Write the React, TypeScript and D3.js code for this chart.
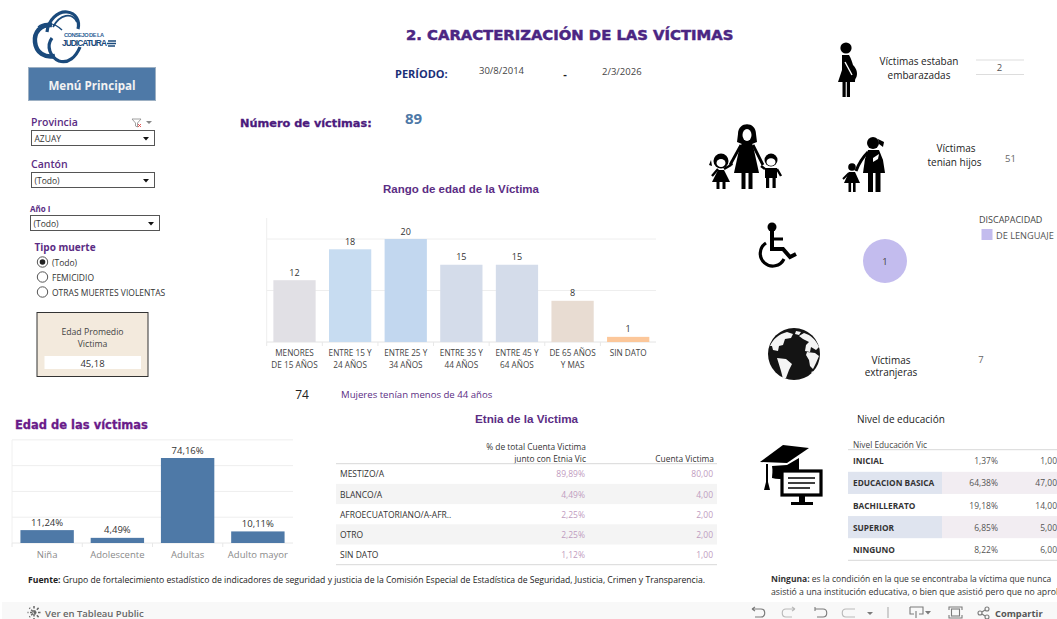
import React from "react";
import * as d3 from "d3";

const rangoCats = [["MENORES","DE 15 AÑOS"],["ENTRE 15 Y","24 AÑOS"],["ENTRE 25 Y","34 AÑOS"],["ENTRE 35 Y","44 AÑOS"],["ENTRE 45 Y","64 AÑOS"],["DE 65 AÑOS","Y MAS"],["SIN DATO"]];
const rangoVals = [12,18,20,15,15,8,1];
const rangoColors = ["#e1e0e5","#c7dcf1","#c2d7ef","#d4dcea","#d4dcea","#e8dcd2","#fcc79a"];
const rangoGrid = [10,20];
const edadCats = ["Niña","Adolescente","Adultas","Adulto mayor"];
const edadVals = [11.24,4.49,74.16,10.11];
const edadLabels = ["11,24%","4,49%","74,16%","10,11%"];
const edadGrid = [22.5,45,67.5,90];
const etniaCats = ["MESTIZO/A","BLANCO/A","AFROECUATORIANO/A-AFR..","OTRO","SIN DATO"];
const etniaPct = ["89,89%","4,49%","2,25%","2,25%","1,12%"];
const etniaCnt = ["80,00","4,00","2,00","2,00","1,00"];
const eduCats = ["INICIAL","EDUCACION BASICA","BACHILLERATO","SUPERIOR","NINGUNO"];
const eduPct = ["1,37%","64,38%","19,18%","6,85%","8,22%"];
const eduCnt = ["1,00","47,00","14,00","5,00","6,00"];
const tipoMuerte = ["(Todo)","FEMICIDIO","OTRAS MUERTES VIOLENTAS"];

const F = "'Open Sans', sans-serif";
const H = "'Liberation Sans', sans-serif";
const D = "'DejaVu Sans', sans-serif";
const PUR = "#5b2d84";

function T({x,y,s=9,c="#333",w=400,a="start",f=F,bold=0,children}:any){
  return <text x={x} y={y} fontSize={s} fill={c} fontWeight={w} textAnchor={a} fontFamily={f} dominantBaseline="central" stroke={bold?c:"none"} strokeWidth={bold}>{children}</text>;
}

function Dropdown({x,y,w,label}:any){
  return <g>
    <rect x={x+.5} y={y+.5} width={w} height={15} fill="#fff" stroke="#555"/>
    <T x={x+3.5} y={y+8} s={8.5} c="#333">{label}</T>
    <path d={`M${x+w-11} ${y+7}h6l-3 3.5z`} fill="#111"/>
  </g>;
}

function RangoChart(){
  const x = d3.scaleBand().domain(d3.range(rangoCats.length).map(String)).range([266.7,656]).paddingInner(0.24).paddingOuter(0.12);
  const y = d3.scaleLinear().domain([0,20]).range([342,239]);
  const step = x.step();
  return <g>
    <line x1={266.7} x2={266.7} y1={218} y2={342} stroke="#eee"/>
    {rangoGrid.map(g=><line key={g} x1={266.7} x2={656} y1={y(g)} y2={y(g)} stroke="#eee"/>)}
    <line x1={266.7} x2={656} y1={y(0)} y2={y(0)} stroke="#e4e4e4"/>
    {rangoVals.map((v,i)=>{const bx=x(String(i))!;return <g key={i}>
      <rect x={bx} y={y(v)} width={x.bandwidth()} height={y(0)-y(v)} fill={rangoColors[i]}/>
      <line x1={266.7+step*i} x2={266.7+step*i} y1={342} y2={346} stroke="#e8e8e8"/>
      <T x={bx+x.bandwidth()/2} y={y(v)-8} s={9} a="middle" c="#333">{v}</T>
      {rangoCats[i].map((l,k)=><T key={k} x={bx+x.bandwidth()/2} y={352+k*12} s={8.2} a="middle" c="#444">{l}</T>)}
    </g>})}
  </g>;
}

function EdadChart(){
  const x = d3.scaleBand().domain(edadCats).range([12,293]).paddingInner(0.24).paddingOuter(0.12);
  const y = d3.scaleLinear().domain([0,74.16]).range([543,458]);
  const step = x.step();
  return <g>
    <line x1={12} x2={12} y1={440} y2={543} stroke="#f0f0f0"/>
    {edadGrid.map(g=><line key={g} x1={12} x2={293} y1={y(g)} y2={y(g)} stroke="#eee"/>)}
    <line x1={12} x2={293} y1={543} y2={543} stroke="#e8e8e8"/>
    {edadVals.map((v,i)=>{const c=edadCats[i];const bx=x(c)!;return <g key={c}>
      <rect x={bx} y={y(v)} width={x.bandwidth()} height={y(0)-y(v)} fill="#4e79a7"/>
      <line x1={12+step*i} x2={12+step*i} y1={543} y2={547} stroke="#e8e8e8"/>
      <T x={bx+x.bandwidth()/2} y={y(v)-8} s={9.5} a="middle" c="#333">{edadLabels[i]}</T>
      <T x={bx+x.bandwidth()/2} y={554} s={9.5} a="middle" c="#8a8a8a">{c}</T>
    </g>})}
  </g>;
}

function EtniaTable(){
  const y = d3.scaleBand().domain(etniaCats).range([463.7,564.7]);
  return <g>
    <T x={586} y={446} s={8.4} a="end" c="#333">% de total Cuenta Victima</T>
    <T x={586} y={458} s={8.4} a="end" c="#333">junto con Etnia Vic</T>
    <T x={714} y={458} s={8.4} a="end" c="#333">Cuenta Victima</T>
    {etniaCats.map((c,i)=>{const ry=y(c)!;const h=y.bandwidth();return <g key={c}>
      {i%2===1 && <rect x={336} y={ry} width={381} height={h} fill="#f4f4f4"/>}
      <T x={340} y={ry+h/2} s={8.5} c="#333">{c}</T>
      <T x={585} y={ry+h/2} s={8.5} a="end" c="#bf9cc0">{etniaPct[i]}</T>
      <T x={713} y={ry+h/2} s={8.5} a="end" c="#bf9cc0">{etniaCnt[i]}</T>
    </g>})}
    <line x1={336} x2={717} y1={463.7} y2={463.7} stroke="#d8d8d8"/>
    <line x1={336} x2={717} y1={564.7} y2={564.7} stroke="#d8d8d8"/>
  </g>;
}

function EduTable(){
  const y = d3.scaleBand().domain(eduCats).range([449.7,560.3]);
  return <g>
    <T x={853} y={444} s={8.3} c="#444">Nivel Educación Vic</T>
    {eduCats.map((c,i)=>{const ry=y(c)!;const h=y.bandwidth();return <g key={c}>
      {i%2===1 && <><rect x={848} y={ry} width={94} height={h} fill="#dfe4ef"/><rect x={942} y={ry} width={115} height={h} fill="#f2edf2"/></>}
      <T x={853} y={ry+h/2} s={8.3} w={700} c="#333">{c}</T>
      <T x={998} y={ry+h/2} s={8.5} a="end" c="#555">{eduPct[i]}</T>
      <T x={1057} y={ry+h/2} s={8.5} a="end" c="#555">{eduCnt[i]}</T>
    </g>})}
    <line x1={848} x2={1057} y1={449.7} y2={449.7} stroke="#d8d8d8"/>
    <line x1={848} x2={1057} y1={560.3} y2={560.3} stroke="#d8d8d8"/>
  </g>;
}

function Logo(){
  const c="#1a4a7c";
  return <g fill="none" stroke={c}>
    <path d="M52 25 C40 24 34 33 35 42 C36 53 45 58 55 56" strokeWidth={4.5}/>
    <path d="M47 32 C48 20 58 11 67 12 C76 13 80 21 78 29" strokeWidth={3.2}/>
    <path d="M53 27 C60 14 72 12 77 22" strokeWidth={1.8}/>
    <path d="M52 38 C46 46 50 57 59 61 C68 64 76 57 80 47" strokeWidth={3.2}/>
    <path d="M38 27 C44 22 54 22 62 30" strokeWidth={1.5}/>
    <text x={64} y={37} fontSize={5.7} fontWeight={700} fontFamily={H} fill="#2f5f96" stroke="none" textLength={40}>CONSEJO DE LA</text>
    <text x={62} y={46} fontSize={8.4} fontWeight={700} fontFamily={H} fill={c} stroke="none" textLength={45}>JUDICATURA</text>
    <path d="M108 41h8M107 43.500h9M108 46h7" strokeWidth={1.6}/>
  </g>;
}

function Pregnant(){
  return <g fill="#000">
    <circle cx={846} cy={48} r={5.6}/>
    <path d="M842 55h7c2 3 3 7 4 10c4 4 5 9 3 13c-1 1-1 2-1 4h-17l4-12z"/>
    <rect x={842.500} y={82} width={3.200} height={15}/><rect x={846.800} y={82} width={3.200} height={15}/>
    <path d="M845 62l7 13" stroke="#fff" strokeWidth={1.4} fill="none"/>
  </g>;
}

function Family(){
  return <g fill="#000">
    <circle cx={721} cy={161} r={7.500}/>
    <path d="M711 160l-2 5 3 1zM731 160l2 5-3 1z"/>
    <ellipse cx={721} cy={163} rx={4.500} ry={4} fill="#fff"/>
    <path d="M718 170h6l6 12h-18z"/>
    <rect x={716.500} y={181} width={3} height={8}/><rect x={722.500} y={181} width={3} height={8}/>
    <path d="M712 176l6-7M724 169l7-4" stroke="#000" strokeWidth={2.400} fill="none"/>

    <path d="M738 134c0-13 18-13 18 0l1 8-5 2h-10l-5-2z"/>
    <ellipse cx={747} cy={135} rx={4.500} ry={6} fill="#fff"/>
    <path d="M742 143h10l2 7 5 23h-25l5-23z"/>
    <rect x={741.500} y={173} width={4} height={16}/><rect x={748.500} y={173} width={4} height={16}/>
    <path d="M741 145l-11 20M753 145l10 20" stroke="#000" strokeWidth={2.800} fill="none"/>

    <circle cx={771} cy={160} r={6.500}/>
    <ellipse cx={771} cy={162} rx={4.500} ry={3.800} fill="#fff"/>
    <path d="M765 168h12v10h-12z"/>
    <rect x={766} y={177} width={3.200} height={11}/><rect x={772.500} y={177} width={3.200} height={11}/>
    <path d="M765 169l-4-3M777 169l4 7" stroke="#000" strokeWidth={2.400} fill="none"/>
  </g>;
}

function Mom(){
  return <g fill="#000">
    <circle cx={873} cy={143} r={6}/>
    <path d="M878 139l6 3-1 5-4-3z"/>
    <path d="M868 150h11l4 10 2 13h-22l2-14z"/>
    <rect x={868} y={172} width={5} height={20}/><rect x={875.500} y={172} width={5} height={20}/>
    <path d="M868 152c-5 5-9 11-12 19" stroke="#000" strokeWidth={3} fill="none"/>
    <path d="M873 158l6-4-1 5-5 3z" fill="#fff"/>
    <circle cx={852} cy={167} r={3.800}/>
    <path d="M849 172h6l5 11h-16z"/>
    <rect x={848.500} y={182} width={2.600} height={10}/><rect x={853} y={182} width={2.600} height={10}/>
    <path d="M849 173l-6 6" stroke="#000" strokeWidth={2} fill="none"/>
  </g>;
}

function Wheelchair(){
  return <g fill="none" stroke="#000">
    <circle cx={772} cy={227} r={4.500} fill="#000" stroke="none"/>
    <path d="M772 231v18h11l7 8 6-3" strokeWidth={4}/>
    <path d="M772 239h11" strokeWidth={3}/>
    <path d="M766 243a12.500 12.500 0 1 0 18 16" strokeWidth={3.200}/>
  </g>;
}

function Globe(){
  return <g>
    <circle cx={794} cy={354} r={26} fill="#141414"/>
    <g fill="#f4f4f4">
      <path d="M770 346c3-7 9-12 17-14l6 2-2 4-6 1-2 6-4 1-1 5-5-1-1-4z"/>
      <path d="M777 358l9 1 6 5-3 6-3 8-3 1-2-8z"/>
      <path d="M804 333c7 2 12 7 15 14l-3 3-5-3-1 5-5-1 1-6 3-3-6-3-4-3z"/>
      <path d="M807 352l8 1 4 3-3 7-3 6-3-3-1-6-3-5z"/>
      <path d="M796 331l5 1-2 3-4-1z"/>
      <path d="M811 372l3-1-1 3z"/>
    </g>
  </g>;
}

function Grad(){
  return <g>
    <path d="M760 462l23-17 26 3-22 15z" fill="#000"/>
    <path d="M772 466c1 5 0 9 0 12 7 2 17 1 27-4v-16l-12 7z" fill="#000"/>
    <path d="M766 464v18l-2 8h6l-2-8v-18" fill="#000"/>
    <rect x={782} y={471} width={39} height={24} fill="#fff" stroke="#000" strokeWidth={3.200}/>
    <path d="M788 478h27M788 483h27M788 488h22" stroke="#000" strokeWidth={1.300}/>
    <path d="M799 496h6v6h8v3h-22v-3h8z" fill="#000"/>
  </g>;
}

function Toolbar(){
  const g="#7b7b7b";
  return <g>
    <rect x={2} y={602} width={1055} height={17} fill="#f8f8f8"/>
    <g stroke={g} fill="none" strokeWidth={1.100}>
      {[0,45,90,135].map(a=><line key={a} x1={34} y1={606} x2={34} y2={619} transform={`rotate(${a} 34 612.500)`} strokeDasharray="2.500 1.500" strokeWidth={1.500} stroke="#666"/>)}
      <path d="M752 609l3-2m-3 2l3 2M752 609h9c5 0 5 8 0 8h-6"/>
      <path d="M795 609l-3-2m3 2l-3 2M795 609h-9c-5 0-5 8 0 8h6" opacity={.5}/>
      <path d="M815 607v4M815 609h8c5 0 5 8 0 8h-6"/>
      <path d="M855 609h-9c-5 0-5 8 0 8h9" opacity={.5}/>
      <path d="M888 607v11" opacity={.6}/>
      <path d="M910 607h13v7h-4M910 607v7h4M916 611v7"/>
      <path d="M949 610v-3h13v3M949 615v3h13v-3"/><rect x={951.500} y={609} width={8} height={7}/>
      <circle cx={980} cy={613} r={2}/><circle cx={987} cy={609} r={2}/><circle cx={987} cy={617} r={2}/>
      <path d="M982 612l3-2M982 614l3 2"/>
    </g>
    <path d="M867 612h6l-3 3zM925 611h6l-3 3.500z" fill={g} />
    <T x={45} y={613} s={9.500} c="#666" w={600}>Ver en Tableau Public</T>
    <T x={995} y={613} s={9.300} c="#555" w={700}>Compartir</T>
  </g>;
}

export default function App(){
  return <svg width={1057} height={619} viewBox="0 0 1057 619" style={{position:"absolute",left:0,top:0,background:"#fff",overflow:"hidden"}}>
    <Logo/>
    <rect x={28.500} y={67.500} width={127} height={33} fill="#4e79a7" stroke="#9db0c3"/>
    <T x={92} y={85} s={11.600} w={700} c="#f2f2f2" a="middle">Menú Principal</T>

    <T x={31} y={122} s={10.500} w={600} c={PUR}>Provincia</T>
    <path d="M132 119h9l-3.500 4v4l-2-1v-3z" fill="none" stroke="#888" strokeWidth={.8}/>
    <path d="M138 124l3 3m0-3l-3 3" stroke="#d33" strokeWidth={.8}/>
    <path d="M146 121h6l-3 3z" fill="#888"/>
    <Dropdown x={31} y={130} w={123} label="AZUAY"/>
    <T x={31} y={164} s={10.500} w={600} c={PUR}>Cantón</T>
    <Dropdown x={31} y={172} w={123} label="(Todo)"/>
    <T x={30} y={208} s={8} w={700} c={PUR}>Año I</T>
    <Dropdown x={30} y={215} w={129} label="(Todo)"/>
    <T x={34.500} y={247} s={10} w={700} c={PUR}>Tipo muerte</T>
    {tipoMuerte.map((t,i)=><g key={t}>
      <circle cx={42.500} cy={262+i*15} r={5.200} fill="#fff" stroke="#555"/>
      {i===0 && <circle cx={42.500} cy={262} r={2.800} fill="#222"/>}
      <T x={52} y={262+i*15} s={8.500} c="#333">{t}</T>
    </g>)}
    <rect x={37} y={312.500} width={111} height={64} fill="#f3eadd" stroke="#333"/>
    <T x={92.500} y={332} s={8.700} a="middle" c="#444">Edad Promedio</T>
    <T x={92.500} y={343.500} s={8.700} a="middle" c="#444">Victima</T>
    <rect x={44.500} y={356} width={96.500} height={13} fill="#fff"/>
    <T x={92.500} y={363} s={9.500} a="middle" c="#333">45,18</T>

    <T x={406} y={34} s={14.800} w={700} f={D} bold={0.5} c="#4b2683">2. CARACTERIZACIÓN DE LAS VÍCTIMAS</T>
    <T x={395} y={73} s={11} w={700} c="#1b2f78">PERÍODO:</T>
    <T x={479} y={70} s={9.500} c="#444">30/8/2014</T>
    <T x={565} y={73} s={11} w={700} a="middle" c="#222">-</T>
    <T x={602} y={71} s={9.500} c="#444">2/3/2026</T>
    <T x={240} y={123} s={11.300} w={700} f={D} bold={0.3} c="#4b1a7d">Número de víctimas:</T>
    <T x={405} y={118} s={15} w={700} c="#4e79a7">89</T>

    <T x={461} y={189} s={11.500} w={700} f={H} a="middle" c={PUR}>Rango de edad de la Víctima</T>
    <RangoChart/>
    <T x={302} y={394} s={12} w={400} a="middle" c="#222">74</T>
    <T x={341} y={394} s={9.600} c={PUR}>Mujeres tenían menos de 44 años</T>

    <T x={15} y={425} s={11.500} w={700} f={D} bold={0.3} c="#6a1b8a">Edad de las víctimas</T>
    <EdadChart/>

    <T x={526.500} y={418} s={11.700} w={700} f={H} a="middle" c={PUR}>Etnia de la Victima</T>
    <EtniaTable/>

    <T x={857} y={419} s={10} c="#222">Nivel de educación</T>
    <Grad/>
    <EduTable/>

    <text x={28} y={580} fontSize={8.650} fontFamily={F} fill="#222" dominantBaseline="central">
      <tspan fontWeight={700}>Fuente:</tspan> Grupo de fortalecimiento estadístico de indicadores de seguridad y justicia de la Comisión Especial de Estadística de Seguridad, Justicia, Crimen y Transparencia.
    </text>
    <text x={771} y={578} fontSize={8.500} fontFamily={F} fill="#333" dominantBaseline="central"><tspan fontWeight={700}>Ninguna:</tspan> es la condición en la que se encontraba la víctima que nunca</text>
    <T x={771} y={592} s={8.700} c="#333">asistió a una institución educativa, o bien que asistió pero que no aprobó</T>

    <Pregnant/>
    <T x={919} y={60.500} s={10} a="middle" c="#222">Víctimas estaban</T>
    <T x={919} y={75} s={10} a="middle" c="#222">embarazadas</T>
    <line x1={976} x2={1024} y1={60} y2={60} stroke="#ddd"/>
    <line x1={976} x2={1024} y1={74.500} y2={74.500} stroke="#ddd"/>
    <T x={999.500} y={67.500} s={9.500} a="middle" c="#555">2</T>

    <Family/>
    <Mom/>
    <T x={956} y={148} s={10} a="middle" c="#222">Víctimas</T>
    <T x={954.500} y={162} s={10} a="middle" c="#222">tenian hijos</T>
    <T x={1010.500} y={158} s={9.500} a="middle" c="#666">51</T>

    <Wheelchair/>
    <circle cx={885} cy={261} r={22} fill="#c3bcee"/>
    <T x={885} y={261.500} s={9.500} a="middle" c="#444">1</T>
    <T x={979} y={219} s={9} c="#444">DISCAPACIDAD</T>
    <rect x={981.500} y={229} width={11} height={11} fill="#c3bcee"/>
    <T x={996} y={235} s={9.200} c="#555">DE LENGUAJE</T>

    <Globe/>
    <T x={891} y={360} s={10} a="middle" c="#222">Víctimas</T>
    <T x={891} y={372} s={10} a="middle" c="#222">extranjeras</T>
    <T x={981} y={359} s={9.500} a="middle" c="#666">7</T>

    <Toolbar/>
  </svg>;
}
